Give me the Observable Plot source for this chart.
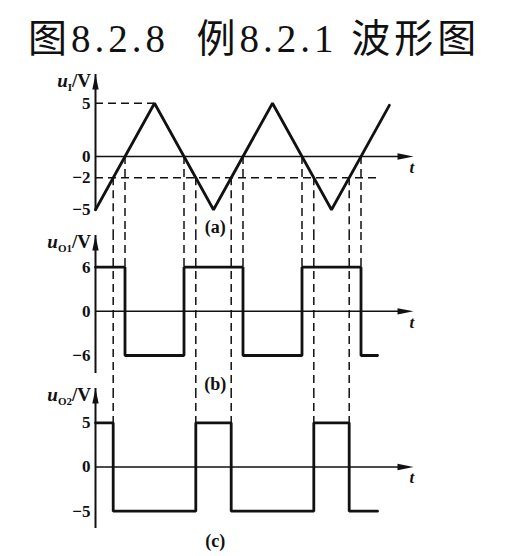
<!DOCTYPE html>
<html><head><meta charset="utf-8">
<script src="https://cdn.jsdelivr.net/npm/d3@7"></script>
<script src="https://cdn.jsdelivr.net/npm/@observablehq/plot@0.6"></script>
<style>
body{margin:0;background:#fff;}
#wrap{position:relative;width:511px;height:556px;overflow:hidden;background:#fff;}
#title{position:absolute;left:28px;top:19px;font-family:"Liberation Serif","Times New Roman","Noto Sans CJK SC",serif;font-size:39px;letter-spacing:4px;line-height:39px;white-space:pre;color:#111;}
</style></head><body>
<div id="wrap"><div id="title">图8.2.8  例8.2.1 波形图</div></div>
<script>
// ---- data (t in half-periods of the triangle wave) ----
const tA = [0, 1, 2, 3, 4, 4.98];
const uI = [-5, 5, -5, 5, -5, 4.8];
const tB = [0, 0.5, 1.5, 2.5, 3.5, 4.5, 4.78];
const uO1 = [6, -6, 6, -6, 6, -6, -6];
const tC = [0, 0.3, 1.7, 2.3, 3.7, 4.3, 4.78];
const uO2 = [5, -5, 5, -5, 5, -5, -5];
const zeroCross = [0.5, 1.5, 2.5, 3.5, 4.5];
const thrCross = [0.3, 1.7, 2.3, 3.7, 4.3];
const peak = 5, threshold = -2;
const ticksA = [5, 0, -2, -5];
const ticksB = [6, 0, -6];
const ticksC = [5, 0, -5];
const labelsSub = ["I", "O1", "O2"];
const captions = ["(a)", "(b)", "(c)"];

const INK = "#111";
const SERIF = "'Liberation Serif','Times New Roman',serif";
const DASH = "8,5";
const fmt = d => d < 0 ? "\u2212" + Math.abs(d) : String(d);
const upArrow = {draw(c){ c.moveTo(0,0); c.lineTo(3.2,15); c.lineTo(-3.2,15); c.closePath(); }};
const rightArrow = {draw(c){ c.moveTo(0,0); c.lineTo(-16,-3.2); c.lineTo(-16,3.2); c.closePath(); }};
const rows = (ts, vs) => ts.map((t, i) => ({t, v: vs[i]}));

function panel(o) {
  const p = Plot.plot({
    width: 511, height: o.height, margin: 0,
    style: {background: "transparent", overflow: "visible"},
    x: {domain: [0, 5], range: [95, 390], axis: null},
    y: {domain: o.yDomain, range: o.yRange, axis: null},
    marks: [
      ...o.dashed,
      Plot.ruleY([0], {x1: 0, x2: 5.2, stroke: INK, strokeWidth: 1.5}),
      Plot.dot([0], {x: 5.39, y: 0, symbol: rightArrow, fill: INK, stroke: "none"}),
      Plot.ruleX([0], {y1: o.axisBottom, y2: o.axisTop, stroke: INK, strokeWidth: 2}),
      Plot.dot([0], {x: 0, y: o.axisTop, symbol: upArrow, fill: INK, stroke: "none"}),
      Plot.line(o.wave, {x: "t", y: "v", curve: o.curve, stroke: INK, strokeWidth: 2.8, strokeLinejoin: "miter"}),
      Plot.text(o.ticks, {x: 0, y: d => d, text: fmt, dx: -5, textAnchor: "end", fontFamily: SERIF, fontWeight: "bold", fontSize: 17, fill: INK}),
      Plot.text(["t"], {x: 5.36, y: 0, dy: 11, text: d => d, fontFamily: SERIF, fontWeight: "bold", fontStyle: "italic", fontSize: 17, fill: INK}),
      Plot.text([o.caption], {x: 2.03, y: o.captionY, text: d => d, fontFamily: SERIF, fontWeight: "bold", fontSize: 18, fill: INK})
    ]
  });
  p.style.position = "absolute";
  p.style.left = "0px";
  p.style.top = o.top + "px";
  const xs = p.scale("x"), ys = p.scale("y");
  const g = d3.select(p).append("text")
    .attr("x", xs.apply(0) - 4).attr("y", ys.apply(o.axisTop) + 13)
    .attr("text-anchor", "end").attr("font-family", SERIF).attr("font-weight", "bold")
    .attr("font-size", 19).attr("fill", INK);
  g.append("tspan").attr("font-style", "italic").text("u");
  g.append("tspan").attr("font-size", 11).attr("dy", 4).text(o.sub);
  g.append("tspan").attr("dy", -4).text("/V");
  document.getElementById("wrap").appendChild(p);
}

// panel (a)
panel({
  top: 60, height: 175, yDomain: [-5, 5], yRange: [149.3, 42.7],
  axisTop: 7.69, axisBottom: -5.1, ticks: ticksA, sub: labelsSub[0],
  caption: captions[0], captionY: -6.66,
  wave: rows(tA, uI), curve: "linear",
  dashed: [
    Plot.ruleY([peak], {x1: 0, x2: 1, stroke: INK, strokeWidth: 1.5, strokeDasharray: DASH}),
    Plot.ruleY([threshold], {x1: 0, x2: 4.8, stroke: INK, strokeWidth: 1.5, strokeDasharray: DASH}),
    Plot.ruleX(zeroCross, {y1: 0, y2: -7.13, stroke: INK, strokeWidth: 1.5, strokeDasharray: DASH}),
    Plot.ruleX(thrCross, {y1: threshold, y2: -7.13, stroke: INK, strokeWidth: 1.5, strokeDasharray: DASH})
  ]
});
// panel (b)
panel({
  top: 225, height: 170, yDomain: [-6, 6], yRange: [130, 41.7],
  axisTop: 10.31, axisBottom: -8.45, ticks: ticksB, sub: labelsSub[1],
  caption: captions[1], captionY: -9.94,
  wave: rows(tB, uO1), curve: "step-after",
  dashed: [
    Plot.ruleX(zeroCross, {y1: 10.72, y2: 6, stroke: INK, strokeWidth: 1.5, strokeDasharray: DASH}),
    Plot.ruleX(thrCross, {y1: 10.72, y2: -10.76, stroke: INK, strokeWidth: 1.5, strokeDasharray: DASH})
  ]
});
// panel (c)
panel({
  top: 380, height: 176, yDomain: [-5, 5], yRange: [130.7, 42.3],
  axisTop: 8.88, axisBottom: -6.96, ticks: ticksC, sub: labelsSub[2],
  caption: captions[2], captionY: -8.43,
  wave: rows(tC, uO2), curve: "step-after",
  dashed: [
    Plot.ruleX(thrCross, {y1: 8.65, y2: 5, stroke: INK, strokeWidth: 1.5, strokeDasharray: DASH})
  ]
});
</script>
</body></html>
